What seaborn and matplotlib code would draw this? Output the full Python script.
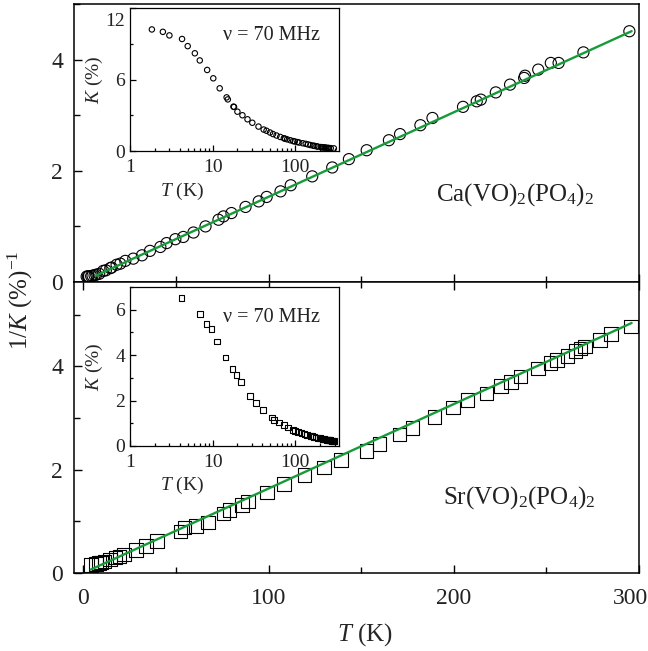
import matplotlib
matplotlib.use("Agg")
import matplotlib.pyplot as plt
import matplotlib.transforms as mtransforms
from matplotlib.ticker import (MultipleLocator, LogLocator, NullFormatter,
                               FixedLocator, FixedFormatter)
import numpy as np
import seaborn as sns

# ---- Ca(VO)2(PO4)2 : inverse Knight shift vs temperature ----
ca_T = [1.84, 2.5, 3.0, 4.27, 5.0, 6.1, 7.0, 8.6, 10.8, 12.2, 14.6, 15.3, 18.0,
        20.0, 22.7, 27.0, 31.7, 36.0, 41.6, 45.0, 49.7, 54.0, 59.5, 66.0, 73.0,
        75.7, 80.0, 87.6, 94.7, 99.0, 106.5, 112.0, 123.6, 134.4, 143.4, 153.0,
        165.0, 171.0, 182.0, 188.5, 205.0, 212.4, 214.6, 222.7, 230.4, 238.0,
        238.5, 245.6, 252.4, 256.6, 270.0, 294.8]
ca_invK = [0.098, 0.100, 0.103, 0.106, 0.114, 0.122, 0.132, 0.147, 0.20, 0.21,
           0.25, 0.26, 0.31, 0.33, 0.38, 0.42, 0.48, 0.56, 0.63, 0.70, 0.77,
           0.81, 0.89, 1.00, 1.12, 1.18, 1.24, 1.35, 1.45, 1.53, 1.63, 1.74,
           1.90, 2.06, 2.21, 2.37, 2.55, 2.66, 2.82, 2.95, 3.15, 3.25, 3.28,
           3.41, 3.55, 3.67, 3.71, 3.82, 3.94, 3.94, 4.13, 4.51]

# Ca inset: K (%) vs T on a log axis
ca_inset_T = [1.84, 2.5, 3.0, 4.27, 5.0, 6.1, 7.0, 8.6, 10.2, 12.2, 14.8, 15.3,
              17.9, 18.2, 20.0, 23.0, 26.5, 30.3, 36.0, 41.6, 45.0, 49.7, 54.0,
              59.5, 66.0, 73.0, 75.7, 80.0, 87.6, 94.7, 99.0, 106.5, 112.0,
              123.6, 134.4, 143.4, 153.0, 165.0, 171.0, 182.0, 188.5, 205.0,
              212.4, 214.6, 222.7, 230.4, 238.0, 245.6, 252.4, 256.6, 270.0,
              294.8]
ca_inset_K = [10.2, 10.0, 9.7, 9.4, 8.8, 8.2, 7.6, 6.8, 6.1, 5.26, 4.5, 4.33,
              3.72, 3.7, 3.3, 3.0, 2.66, 2.37, 2.05, 1.8, 1.7, 1.55, 1.42, 1.3,
              1.18, 1.07, 1.03, 0.98, 0.9, 0.83, 0.8, 0.75, 0.71, 0.65, 0.6,
              0.55, 0.5, 0.45, 0.43, 0.39, 0.37, 0.33, 0.32, 0.31, 0.3, 0.29,
              0.27, 0.26, 0.25, 0.25, 0.24, 0.22]

# ---- Sr(VO)2(PO4)2 ----
sr_T = [4.2, 7.0, 8.5, 9.7, 11.4, 14.4, 17.4, 19.5, 21.9, 28.5, 33.8, 39.8,
        52.4, 54.6, 61.0, 67.4, 75.8, 79.0, 85.8, 89.0, 99.3, 108.3, 119.5,
        130.0, 139.0, 153.0, 160.0, 170.6, 177.8, 189.6, 199.6, 207.4, 217.7,
        225.6, 231.0, 236.0, 245.5, 252.2, 255.8, 261.3, 265.8, 268.5, 270.9,
        278.9, 284.9, 295.7]
sr_invK = [0.155, 0.175, 0.19, 0.20, 0.22, 0.26, 0.30, 0.32, 0.36, 0.44, 0.52,
           0.62, 0.80, 0.88, 0.91, 0.98, 1.15, 1.22, 1.32, 1.38, 1.56, 1.72,
           1.90, 2.04, 2.19, 2.36, 2.50, 2.68, 2.81, 3.02, 3.20, 3.35, 3.47,
           3.62, 3.70, 3.80, 3.96, 4.06, 4.12, 4.20, 4.29, 4.34, 4.38, 4.51,
           4.62, 4.77]

sr_inset_T = [4.19, 7.0, 8.45, 9.7, 11.4, 14.4, 17.4, 19.5, 21.9, 28.5, 33.8,
              40.7, 52.4, 56.0, 64.0, 72.6, 81.5, 94.0, 99.3, 108.3, 119.5,
              130.0, 139.0, 153.0, 160.0, 170.6, 177.8, 189.6, 199.6, 207.4,
              217.7, 225.6, 231.0, 236.0, 245.5, 252.2, 255.8, 261.3, 265.8,
              268.5, 270.9, 278.9, 284.9, 295.7]
sr_inset_K = [6.53, 5.8, 5.36, 5.14, 4.6, 3.9, 3.39, 3.13, 2.83, 2.2, 1.88,
              1.59, 1.26, 1.15, 1.04, 0.93, 0.81, 0.70, 0.66, 0.61, 0.56, 0.52,
              0.49, 0.45, 0.43, 0.40, 0.38, 0.36, 0.34, 0.33, 0.31, 0.30, 0.29,
              0.285, 0.27, 0.265, 0.26, 0.255, 0.25, 0.245, 0.24, 0.235, 0.23,
              0.22]

# Curie-Weiss straight-line fits, 1/K = a + b*T
ca_fit_T = [6.5, 296.0]
ca_fit_a, ca_fit_b = 0.012, 0.0152
sr_fit_T = [4.0, 296.0]
sr_fit_a, sr_fit_b = 0.0, 0.01634

main_xticks = [0, 100, 200, 300]
inset_xticks = [1, 10, 100]
ca_inset_yticks = [0, 6, 12]
sr_inset_yticks = [0, 2, 4, 6]
freq_label = "ν = 70 MHz"
ca_label = r"Ca(VO)$_2$(PO$_4$)$_2$"
sr_label = r"Sr(VO)$_2$(PO$_4$)$_2$"

# ---------------------------------------------------------------
sns.set_theme(style="ticks")
plt.rcParams.update({
    "font.family": ["Liberation Serif", "DejaVu Serif"],
    "mathtext.fontset": "custom",
    "mathtext.rm": "Liberation Serif",
    "mathtext.it": "Liberation Serif:italic",
    "axes.edgecolor": "black",
    "axes.linewidth": 1.1,
    "text.color": "#222222",
    "xtick.color": "black",
    "ytick.color": "black",
    "xtick.labelcolor": "#222222",
    "ytick.labelcolor": "#222222",
})

GREEN = "#169a3a"
W, H = 648, 651
fig = plt.figure(figsize=(W / 100, H / 100), dpi=100)


def px_axes(x0, y0, x1, y1):
    """Axes from pixel box (left, top, right, bottom)."""
    return fig.add_axes([x0 / W, 1 - y1 / H, (x1 - x0) / W, (y1 - y0) / H])


def shift_label(text, dx_px, dy_px):
    off = mtransforms.ScaledTranslation(dx_px / 100, dy_px / 100,
                                        fig.dpi_scale_trans)
    text.set_transform(text.get_transform() + off)


ax_top = px_axes(74, 4, 639, 282)
ax_bot = px_axes(74, 282, 639, 573)
in_top = px_axes(130, 8, 339, 151)
in_bot = px_axes(130, 287, 339, 446)

# main panels
sns.scatterplot(x=ca_T, y=ca_invK, ax=ax_top, marker="o", s=64,
                facecolor="none", edgecolor="black", linewidth=0.8, zorder=2)
ca_fit_y = [ca_fit_a + ca_fit_b * t for t in ca_fit_T]
sns.lineplot(x=ca_fit_T, y=ca_fit_y, ax=ax_top, color=GREEN, lw=1.7, zorder=3)

sns.scatterplot(x=sr_T, y=sr_invK, ax=ax_bot, marker="s", s=95,
                facecolor="none", edgecolor="black", linewidth=0.8, zorder=2)
sr_fit_y = [sr_fit_a + sr_fit_b * t for t in sr_fit_T]
sns.lineplot(x=sr_fit_T, y=sr_fit_y, ax=ax_bot, color=GREEN, lw=1.7, zorder=3)

for ax in (ax_top, ax_bot):
    ax.set_xlim(-5, 300)
    ax.xaxis.set_major_locator(FixedLocator(main_xticks))
    ax.xaxis.set_major_formatter(FixedFormatter([str(t) for t in main_xticks]))
    ax.xaxis.set_minor_locator(MultipleLocator(50))
    ax.yaxis.set_major_locator(MultipleLocator(2))
    ax.yaxis.set_minor_locator(MultipleLocator(1))
    ax.tick_params(which="both", direction="in", labelsize=17, width=1.0)
    ax.tick_params(which="major", length=6)
    ax.tick_params(which="minor", length=4)
    ax.tick_params(axis="y", pad=8)
    ax.tick_params(axis="x", pad=11)
    ax.set_xlabel("")
    ax.set_ylabel("")

ax_top.set_ylim(0, 5)
ax_top.tick_params(axis="x", labelbottom=False)
ax_bot.set_ylim(0, 5.63)
ax_bot.tick_params(axis="x", which="both", top=True)

ax_bot.set_xlabel(r"$T$ (K)", fontsize=18)
ax_bot.xaxis.set_label_coords(0.515, -0.165)
fig.text(20 / W, 1 - 300 / H, r"1/$K$ (%)$^{-1}$", rotation=90,
         ha="center", va="center", fontsize=18, color="#222222")

ax_top.text(0.78, 0.313, ca_label, transform=ax_top.transAxes,
            ha="center", va="center", fontsize=18)
ax_bot.text(0.788, 0.258, sr_label, transform=ax_bot.transAxes,
            ha="center", va="center", fontsize=18)

# insets
sns.scatterplot(x=ca_inset_T, y=ca_inset_K, ax=in_top, marker="o", s=15,
                facecolor="none", edgecolor="black", linewidth=0.8)
sns.scatterplot(x=sr_inset_T, y=sr_inset_K, ax=in_bot, marker="s", s=17,
                facecolor="none", edgecolor="black", linewidth=0.8)

for ax, ymax, yticks, minor in ((in_top, 12, ca_inset_yticks, 3),
                                (in_bot, 7, sr_inset_yticks, 1)):
    ax.set_facecolor("white")
    ax.set_xscale("log")
    ax.set_xlim(1, 340)
    ax.set_ylim(0, ymax)
    ax.xaxis.set_major_locator(FixedLocator(inset_xticks))
    ax.xaxis.set_major_formatter(FixedFormatter([str(t) for t in inset_xticks]))
    ax.xaxis.set_minor_locator(LogLocator(base=10, subs=np.arange(2, 10)))
    ax.xaxis.set_minor_formatter(NullFormatter())
    ax.yaxis.set_major_locator(FixedLocator(yticks))
    ax.yaxis.set_major_formatter(FixedFormatter([str(t) for t in yticks]))
    ax.yaxis.set_minor_locator(MultipleLocator(minor))
    ax.tick_params(which="both", direction="in", labelsize=14, width=0.9)
    ax.tick_params(which="major", length=4)
    ax.tick_params(which="minor", length=2.5)
    ax.tick_params(axis="y", pad=3.5)
    ax.tick_params(axis="x", pad=6)
    for s in ax.spines.values():
        s.set_linewidth(0.9)
    ax.set_xlabel(r"$T$ (K)", fontsize=14)
    ax.set_ylabel(r"$K$ (%)", fontsize=14)
    ax.text(0.675, 0.81, freq_label, transform=ax.transAxes,
            ha="center", va="center", fontsize=14.5)

in_top.xaxis.set_label_coords(0.25, -0.21)
in_top.yaxis.set_label_coords(-0.12, 0.5)
in_bot.xaxis.set_label_coords(0.25, -0.18)
in_bot.yaxis.set_label_coords(-0.12, 0.5)

# the end labels sit just inside the frame
ticks_bot = ax_bot.xaxis.get_major_ticks(len(main_xticks))
shift_label(ticks_bot[-1].label1, -8, 0)
ticks_in = in_top.yaxis.get_major_ticks(len(ca_inset_yticks))
shift_label(ticks_in[-1].label1, 0, -11)

fig.savefig("out.png", dpi=100)
